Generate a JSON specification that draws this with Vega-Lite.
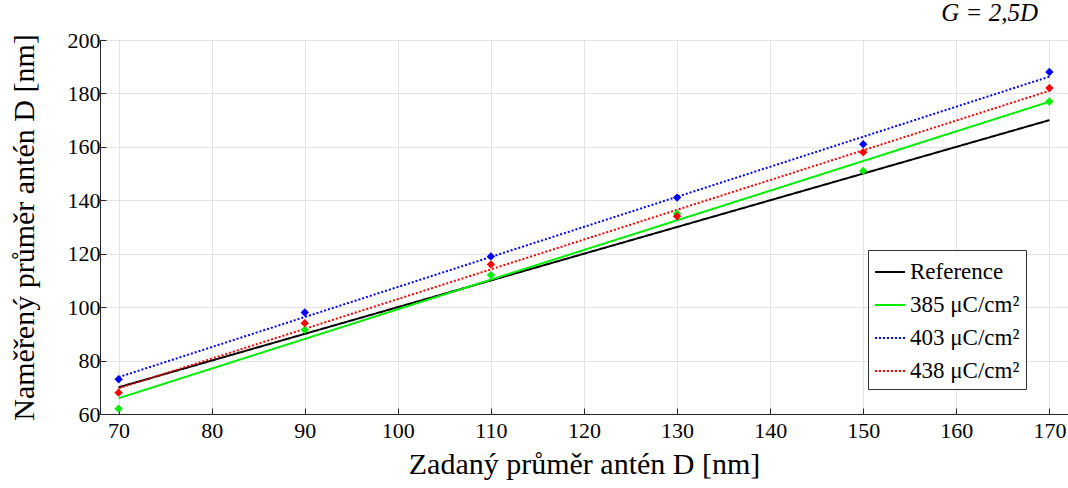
{
  "$schema": "https://vega.github.io/schema/vega-lite/v6.json",
  "width": 968,
  "height": 374,
  "autosize": {"type": "none"},
  "padding": {"left": 100, "top": 40, "right": 0, "bottom": 74},
  "background": "white",
  "title": {
    "text": "G =  2,5D",
    "anchor": "end",
    "frame": "group",
    "font": "Liberation Serif",
    "fontSize": 25,
    "fontStyle": "italic",
    "fontWeight": "normal",
    "color": "black",
    "dx": -30,
    "offset": 3
  },
  "config": {
    "view": {"stroke": null},
    "axis": {
      "titleFont": "Liberation Serif",
      "labelFont": "Liberation Serif",
      "labelFontSize": 22,
      "titleFontSize": 30,
      "titleFontWeight": "normal",
      "labelColor": "black",
      "titleColor": "black",
      "domainColor": "#262626",
      "tickColor": "#262626",
      "gridColor": "#e3e3e3",
      "tickSize": -6
    },
    "legend": {
      "labelFont": "Liberation Serif",
      "labelFontSize": 23,
      "labelColor": "black"
    }
  },
  "datasets": {
    "fits": [
      {"x": 70, "y": 70, "series": "Reference"},
      {"x": 170, "y": 170, "series": "Reference"},
      {"x": 70, "y": 65.9, "series": "385 μC/cm²"},
      {"x": 170, "y": 176.9, "series": "385 μC/cm²"},
      {"x": 70, "y": 73.8, "series": "403 μC/cm²"},
      {"x": 170, "y": 186.3, "series": "403 μC/cm²"},
      {"x": 70, "y": 69.6, "series": "438 μC/cm²"},
      {"x": 170, "y": 181.0, "series": "438 μC/cm²"}
    ],
    "points": [
      {"x": 70, "y": 62, "series": "385 μC/cm²"},
      {"x": 90, "y": 91.5, "series": "385 μC/cm²"},
      {"x": 110, "y": 112, "series": "385 μC/cm²"},
      {"x": 130, "y": 135, "series": "385 μC/cm²"},
      {"x": 150, "y": 151, "series": "385 μC/cm²"},
      {"x": 170, "y": 177, "series": "385 μC/cm²"},
      {"x": 70, "y": 73, "series": "403 μC/cm²"},
      {"x": 90, "y": 98, "series": "403 μC/cm²"},
      {"x": 110, "y": 119, "series": "403 μC/cm²"},
      {"x": 130, "y": 141, "series": "403 μC/cm²"},
      {"x": 150, "y": 161, "series": "403 μC/cm²"},
      {"x": 170, "y": 188, "series": "403 μC/cm²"},
      {"x": 70, "y": 68, "series": "438 μC/cm²"},
      {"x": 90, "y": 94, "series": "438 μC/cm²"},
      {"x": 110, "y": 116, "series": "438 μC/cm²"},
      {"x": 130, "y": 134, "series": "438 μC/cm²"},
      {"x": 150, "y": 158, "series": "438 μC/cm²"},
      {"x": 170, "y": 182, "series": "438 μC/cm²"}
    ]
  },
  "encoding": {
    "x": {
      "field": "x",
      "type": "quantitative",
      "scale": {"domain": [68, 172], "nice": false, "zero": false},
      "axis": {
        "values": [70, 80, 90, 100, 110, 120, 130, 140, 150, 160, 170],
        "title": "Zadaný průměr antén  D [nm]",
        "labelFont": "Liberation Serif",
        "labelFontSize": 22,
        "labelPadding": 12,
        "titlePadding": 8
      }
    },
    "y": {
      "field": "y",
      "type": "quantitative",
      "scale": {"domain": [60, 200], "nice": false, "zero": false},
      "axis": {
        "values": [60, 80, 100, 120, 140, 160, 180, 200],
        "title": "Naměřený průměr antén  D [nm]",
        "labelFont": "Liberation Serif",
        "labelFontSize": 22,
        "labelPadding": 6,
        "titlePadding": 28
      }
    }
  },
  "layer": [
    {
      "data": {"name": "fits"},
      "mark": {"type": "line", "strokeWidth": 2},
      "encoding": {
        "color": {
          "field": "series",
          "type": "nominal",
          "scale": {
            "domain": ["Reference", "385 μC/cm²", "403 μC/cm²", "438 μC/cm²"],
            "range": ["black", "#00ee00", "#0000ff", "#ff0000"]
          },
          "legend": {
            "title": null,
            "orient": "none",
            "legendX": 768,
            "legendY": 210,
            "symbolType": "stroke",
            "symbolSize": 900,
            "symbolStrokeWidth": 2,
            "rowPadding": 5,
            "padding": 6,
            "strokeColor": "#333333",
            "fillColor": "white",
            "labelOffset": 4,
            "labelFont": "Liberation Serif",
            "labelFontSize": 23
          }
        },
        "strokeDash": {
          "field": "series",
          "type": "nominal",
          "scale": {
            "domain": ["Reference", "385 μC/cm²", "403 μC/cm²", "438 μC/cm²"],
            "range": [[1, 0], [1, 0], [2, 2], [2, 2]]
          },
          "legend": {
            "title": null,
            "orient": "none",
            "legendX": 768,
            "legendY": 210,
            "symbolType": "stroke",
            "symbolSize": 900,
            "symbolStrokeWidth": 2,
            "rowPadding": 5,
            "padding": 6,
            "strokeColor": "#333333",
            "fillColor": "white",
            "labelOffset": 4,
            "labelFont": "Liberation Serif",
            "labelFontSize": 23
          }
        },
        "strokeWidth": {"value": 2}
      }
    },
    {
      "data": {"name": "points"},
      "mark": {"type": "point", "shape": "diamond", "filled": true, "size": 70, "opacity": 1},
      "encoding": {
        "fill": {
          "field": "series",
          "type": "nominal",
          "scale": {
            "domain": ["385 μC/cm²", "403 μC/cm²", "438 μC/cm²"],
            "range": ["#00ee00", "#0000ff", "#ff0000"]
          },
          "legend": null
        }
      }
    }
  ],
  "resolve": {"scale": {"fill": "independent"}}
}
